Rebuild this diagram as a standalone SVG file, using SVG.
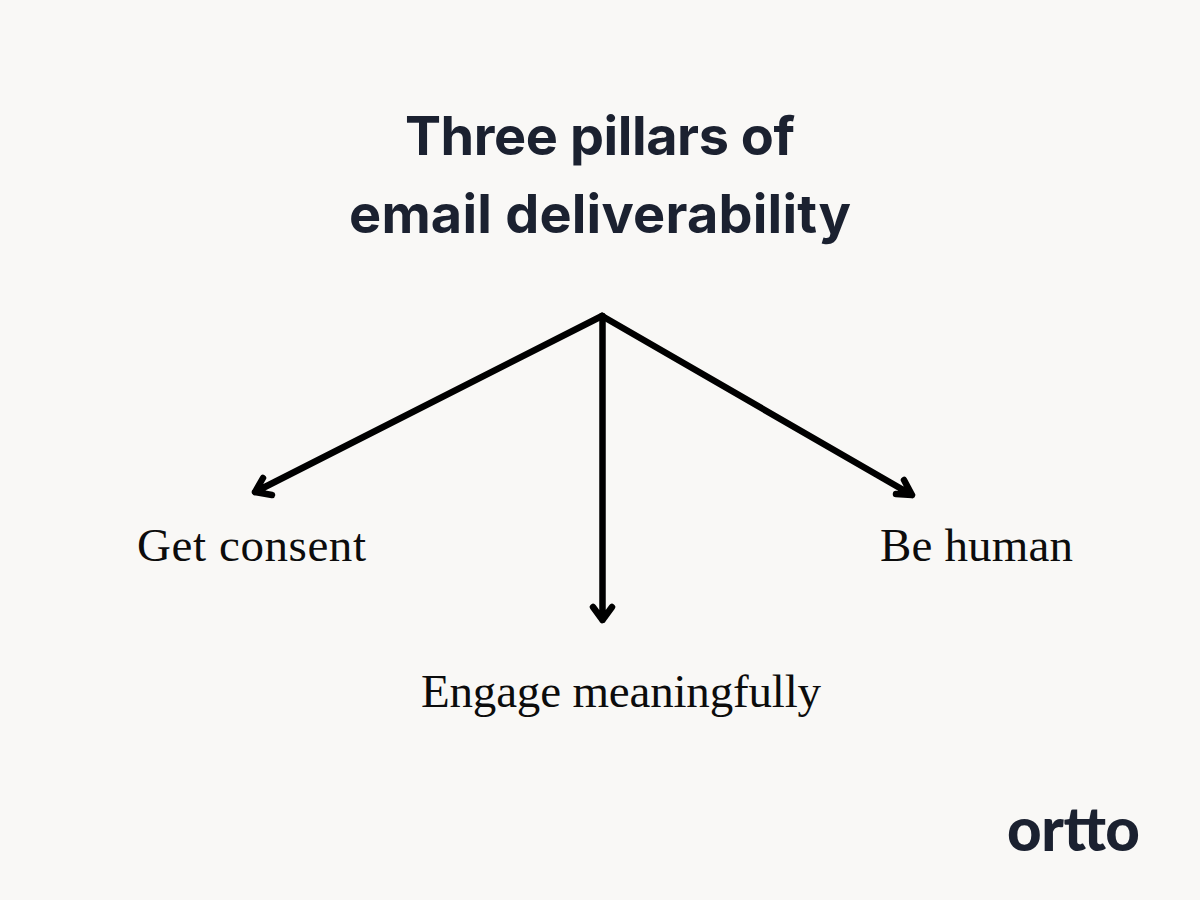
<svg xmlns="http://www.w3.org/2000/svg" width="1200" height="900" viewBox="0 0 1200 900">
<style>
.t{font-family:"Inter","Lato","Liberation Sans",sans-serif;font-weight:700;font-size:54px;fill:#1b2130;text-anchor:middle}
.l{font-family:"Liberation Serif",serif;font-size:47px;fill:#0c0c0c}
.c{fill:none;stroke:#000;stroke-width:6.500;stroke-linecap:round;stroke-linejoin:round}
.logo{font-family:"Lato","Liberation Sans",sans-serif;font-weight:900;font-size:60px;fill:#1b2130}
</style>
<rect width="1200" height="900" fill="#f9f8f6"/>
<g id="title"><text class="t" x="600" y="155" textLength="390">Three pillars of</text><text class="t" x="600" y="233" textLength="502">email deliverability</text></g>
<g id="connectors">
<path class="c" d="M602 316L255 492M263 478L255 492L272 495"/>
<path class="c" d="M602.500 316V620M593 607L602.500 620L612 607"/>
<path class="c" d="M602 316L912 495M896 494L912 495L904 480"/>
</g>
<g id="n1"><text class="l" x="137" y="561" textLength="229">Get consent</text></g>
<g id="n2"><text class="l" x="421" y="707" textLength="400">Engage meaningfully</text></g>
<g id="n3"><text class="l" x="880" y="561" textLength="193">Be human</text></g>
<g id="logo"><text class="logo" x="1007" y="851" textLength="133">ortto</text></g>
</svg>
